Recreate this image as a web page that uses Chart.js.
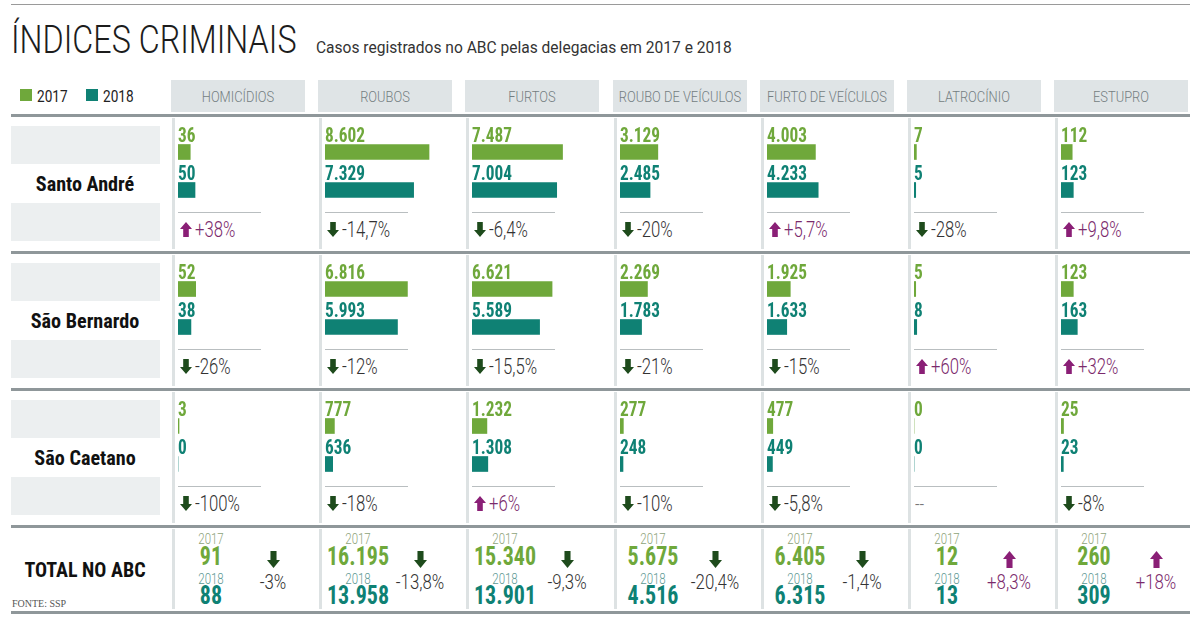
<!DOCTYPE html>
<html lang="pt-BR">
<head>
<meta charset="UTF-8">
<title>Índices criminais</title>
<script src="https://cdn.jsdelivr.net/npm/chart.js"></script>
<style>
  body { margin:0; width:1200px; height:641px; background:#fff; position:relative; overflow:hidden; font-family:Roboto, sans-serif; }
  .abs { position:absolute; white-space:nowrap; }
  .lt { font-family:Roboto, sans-serif; font-weight:300; }
  .rg { font-family:Roboto, sans-serif; font-weight:400; }
  .nb { font-family:"Liberation Sans Narrow", "Roboto Condensed", Roboto, sans-serif; font-weight:700; }
  .sf { font-family:"Liberation Serif", "DejaVu Serif", serif; }
  .box { position:absolute; }
  canvas { position:absolute; }
</style>
</head>
<body>
<script>
// ---- data ----
const categories = ['HOMICÍDIOS', 'ROUBOS', 'FURTOS', 'ROUBO DE VEÍCULOS', 'FURTO DE VEÍCULOS', 'LATROCÍNIO', 'ESTUPRO'];
const cities = ['Santo André', 'São Bernardo', 'São Caetano'];

const santoAndre2017 = [36, 8602, 7487, 3129, 4003, 7, 112];
const santoAndre2018 = [50, 7329, 7004, 2485, 4233, 5, 123];
const santoAndreChange = ['+38%', '-14,7%', '-6,4%', '-20%', '+5,7%', '-28%', '+9,8%'];

const saoBernardo2017 = [52, 6816, 6621, 2269, 1925, 5, 123];
const saoBernardo2018 = [38, 5993, 5589, 1783, 1633, 8, 163];
const saoBernardoChange = ['-26%', '-12%', '-15,5%', '-21%', '-15%', '+60%', '+32%'];

const saoCaetano2017 = [3, 777, 1232, 277, 477, 0, 25];
const saoCaetano2018 = [0, 636, 1308, 248, 449, 0, 23];
const saoCaetanoChange = ['-100%', '-18%', '+6%', '-10%', '-5,8%', '--', '-8%'];

const total2017 = [91, 16195, 15340, 5675, 6405, 12, 260];
const total2018 = [88, 13958, 13901, 4516, 6315, 13, 309];
const totalChange = ['-3%', '-13,8%', '-9,3%', '-20,4%', '-1,4%', '+8,3%', '+18%'];

// axis maximum of each column (the infographic uses its own scale per crime)
const scaleMax = [382, 10750, 10750, 10750, 10750, 382, 1300];

const rows2017 = [santoAndre2017, saoBernardo2017, saoCaetano2017];
const rows2018 = [santoAndre2018, saoBernardo2018, saoCaetano2018];
const rowsChange = [santoAndreChange, saoBernardoChange, saoCaetanoChange];

// ---- look ----
const GREEN = '#6fa83b';
const TEAL = '#0f8174';
const UP = '#8a1f76';
const DOWN = '#1e4b1c';
const LINE = '#8f979a';
const NARROW = '"Liberation Sans Narrow", "Roboto Condensed", Roboto, sans-serif';
const LABEL_FONT = 'bold 20px ' + NARROW;
const TOTAL_FONT = 'bold 25px ' + NARROW;

const colLeft = categories.map((c, i) => Math.round(171 + i * 147.17));
const rowTop = [118, 255, 392];

const fmt = v => String(v).replace(/\B(?=(\d{3})+(?!\d))/g, '.');

// squeeze numbers to the narrow width of the original typeface
const mctx = document.createElement('canvas').getContext('2d');
function widthOf(font, s) { mctx.font = font; return mctx.measureText(s).width; }
const labelSx = 40 / widthOf(LABEL_FONT, '8.602');
const totalSx = 62 / widthOf(TOTAL_FONT, '16.195');

function rect(x, y, w, h, color) {
  const d = document.createElement('div');
  d.className = 'box';
  Object.assign(d.style, { left: x + 'px', top: y + 'px', width: w + 'px', height: h + 'px', background: color });
  document.body.appendChild(d);
  return d;
}

// place a text by its baseline
function text(str, o) {
  const d = document.createElement('div');
  d.className = 'abs ' + (o.cls || 'lt');
  d.textContent = str;
  d.style.fontSize = o.size + 'px';
  d.style.lineHeight = o.size + 'px';
  d.style.top = (o.base - 0.84 * o.size) + 'px';
  d.style.color = o.color || '#222';
  const s = o.sx || 1;
  d.style.left = o.x + 'px';
  if (o.align === 'center') {
    d.style.transformOrigin = 'center';
    d.style.transform = `translateX(-50%) scaleX(${s})`;
  } else {
    d.style.transformOrigin = '0 50%';
    d.style.transform = `scaleX(${s})`;
  }
  document.body.appendChild(d);
  return d;
}

function arrow(x, y, w, h, up) {
  const ns = 'http://www.w3.org/2000/svg';
  const svg = document.createElementNS(ns, 'svg');
  svg.setAttribute('width', w);
  svg.setAttribute('height', h);
  svg.setAttribute('viewBox', '0 0 12 14');
  svg.setAttribute('preserveAspectRatio', 'none');
  Object.assign(svg.style, { position: 'absolute', left: x + 'px', top: y + 'px' });
  const p = document.createElementNS(ns, 'polygon');
  p.setAttribute('points', up ? '6,0 12,6.5 8.8,6.5 8.8,14 3.2,14 3.2,6.5 0,6.5' : '3.2,0 8.8,0 8.8,7.5 12,7.5 6,14 0,7.5 3.2,7.5');
  p.setAttribute('fill', up ? UP : DOWN);
  svg.appendChild(p);
  document.body.appendChild(svg);
}

// ---- frame ----
rect(11, 4, 1179, 1, '#9a9a9a');
text('ÍNDICES CRIMINAIS', { x: 11, base: 53, size: 38, sx: 0.85, color: '#1c1c1c' });
text('Casos registrados no ABC pelas delegacias em 2017 e 2018', { x: 316, base: 53, size: 17, cls: 'rg', sx: 0.915, color: '#333' });

rect(20, 89, 12, 12, GREEN);
text('2017', { x: 37, base: 102, size: 17, cls: 'rg', sx: 0.8, color: '#222' });
rect(86, 89, 12, 12, TEAL);
text('2018', { x: 103, base: 102, size: 17, cls: 'rg', sx: 0.8, color: '#222' });

categories.forEach((c, i) => {
  rect(colLeft[i], 80, 134, 32, '#dfe4e6');
  text(c, { x: colLeft[i] + 67, base: 102, size: 14, align: 'center', sx: 0.92, color: '#737d81' });
});

[114, 251, 388, 525, 611].forEach(y => rect(11, y, 1179, 3, LINE));

// column dividers
[118, 255, 392].forEach(t => colLeft.forEach(x => rect(x + 1, t, 3, 131, '#dde2e3')));
colLeft.forEach(x => rect(x + 1, 529, 3, 80, '#dde2e3'));

// ---- value label plugin ----
const valueLabels = {
  id: 'valueLabels',
  afterDatasetsDraw(chart) {
    const ctx = chart.ctx;
    const meta = chart.getDatasetMeta(0);
    ctx.save();
    ctx.font = LABEL_FONT;
    ctx.textBaseline = 'alphabetic';
    ctx.textAlign = 'left';
    meta.data.forEach((bar, i) => {
      ctx.save();
      ctx.translate(chart.chartArea.left, bar.y - 10);
      ctx.scale(labelSx, 1);
      ctx.fillStyle = i === 0 ? GREEN : TEAL;
      ctx.fillText(fmt(chart.data.datasets[0].data[i]), 0, 0);
      ctx.restore();
    });
    ctx.restore();
  }
};

// ---- city rows ----
cities.forEach((city, r) => {
  const t = rowTop[r];
  rect(11, t + 8, 149, 38, '#eceff0');
  rect(11, t + 85, 149, 38, '#eceff0');
  text(city, { x: 85, base: t + 74, size: 21, cls: 'nb', align: 'center', sx: 0.96, color: '#111' });

  categories.forEach((c, i) => {
    const x = colLeft[i];
    const cv = document.createElement('canvas');
    cv.width = 130;
    cv.height = 88;
    Object.assign(cv.style, { left: (x + 7) + 'px', top: (t + 4) + 'px', width: '130px', height: '88px' });
    document.body.appendChild(cv);

    new Chart(cv, {
      type: 'bar',
      data: {
        labels: ['2017', '2018'],
        datasets: [{
          data: [rows2017[r][i], rows2018[r][i]],
          backgroundColor: [GREEN, TEAL],
          barThickness: 15,
          borderWidth: 0
        }]
      },
      options: {
        indexAxis: 'y',
        responsive: false,
        animation: false,
        events: [],
        layout: { padding: { top: 11, bottom: 1, left: 0, right: 0 } },
        plugins: { legend: { display: false }, tooltip: { enabled: false } },
        scales: {
          x: { display: false, min: 0, max: scaleMax[i] },
          y: { display: false }
        }
      },
      plugins: [valueLabels]
    });

    rect(x + 7, t + 94, 83, 1, '#b9bec0');
    const ch = rowsChange[r][i];
    if (ch === '--') {
      text('--', { x: x + 8, base: t + 119, size: 20, sx: 0.8, color: '#777' });
    } else {
      const up = ch[0] === '+';
      arrow(x + 9, t + 104, 12, 15, up);
      text(ch, { x: x + 24, base: t + 119, size: 22, sx: 0.76, color: up ? '#7b2a6c' : '#333' });
    }
  });
});

// ---- totals ----
text('TOTAL NO ABC', { x: 85, base: 577, size: 20, cls: 'nb', align: 'center', color: '#111' });
text('FONTE: SSP', { x: 12, base: 607, size: 10, cls: 'sf', color: '#555' });

categories.forEach((c, i) => {
  const x = colLeft[i];
  text('2017', { x: x + 40, base: 544, size: 14, align: 'center', sx: 0.82, color: '#8ea37a' });
  text(fmt(total2017[i]), { x: x + 40, base: 565, size: 25, cls: 'nb', align: 'center', sx: totalSx, color: GREEN });
  text('2018', { x: x + 40, base: 584, size: 14, align: 'center', sx: 0.82, color: '#5d9893' });
  text(fmt(total2018[i]), { x: x + 40, base: 604, size: 25, cls: 'nb', align: 'center', sx: totalSx, color: TEAL });
  const ch = totalChange[i];
  const up = ch[0] === '+';
  arrow(x + 96, 551, 13, 17, up);
  text(ch, { x: x + 102, base: 589, size: 20, align: 'center', sx: 0.84, color: up ? '#7b2a6c' : '#333' });
});
</script>
</body>
</html>
